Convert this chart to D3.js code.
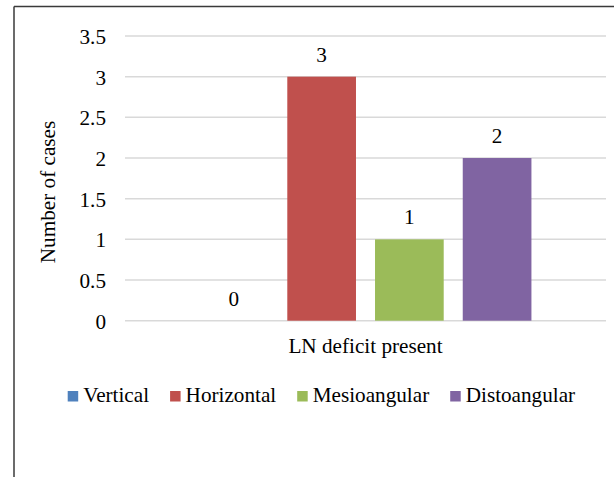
<!DOCTYPE html>
<html>
<head>
<meta charset="utf-8">
<script src="https://cdn.jsdelivr.net/npm/d3@7"></script>
<style>
  html, body { margin: 0; padding: 0; background: #fff; overflow: hidden; }
  svg { display: block; }
</style>
</head>
<body>
<script>
const categories = ["LN deficit present"];
const series = ["Vertical", "Horizontal", "Mesioangular", "Distoangular"];
const values = [0, 3, 1, 2];
const colors = ["#4F81BD", "#C0504D", "#9BBB59", "#8064A2"];
const yTicks = [0, 0.5, 1, 1.5, 2, 2.5, 3, 3.5];
const yTitle = "Number of cases";

const W = 614, H = 477;
const fs = 21.2;
const FONT = "'Liberation Serif', 'Times New Roman', serif";
const svg = d3.select("body").append("svg").attr("width", W).attr("height", H)
  .attr("font-family", FONT).style("font-family", FONT);

// outer border (left and top visible)
svg.append("line").attr("x1", 14).attr("x2", 14).attr("y1", 6.5).attr("y2", H)
  .attr("stroke", "#3a3a3a").attr("stroke-width", 1.5);
svg.append("line").attr("x1", 14).attr("x2", W).attr("y1", 6.5).attr("y2", 6.5)
  .attr("stroke", "#3a3a3a").attr("stroke-width", 1.5);

const plotL = 125, plotR = 606;
const y = d3.scaleLinear().domain([0, 3.5]).range([320.7, 36]);
const x0 = d3.scaleBand().domain(categories).range([plotL, plotR]).padding(0);
const x1 = d3.scaleBand().domain(series).range([0, x0.bandwidth()])
  .paddingInner(0.217).paddingOuter(0.85);

// gridlines
svg.append("g").selectAll("line").data(yTicks).join("line")
  .attr("x1", plotL).attr("x2", plotR)
  .attr("y1", d => y(d)).attr("y2", d => y(d))
  .attr("stroke", "#d9d9d9").attr("stroke-width", 1.5);

// y axis labels
const yAxis = d3.axisLeft(y).tickValues(yTicks).tickSize(0).tickPadding(0)
  .tickFormat(d => String(d));
const ga = svg.append("g").attr("transform", "translate(106,0)").call(yAxis);
ga.attr("font-family", FONT).attr("font-size", fs);
ga.select(".domain").remove();
ga.selectAll("text").attr("font-size", fs).style("font-family", FONT)
  .attr("fill", "#000").attr("dy", "0.35em");

// bars
const grp = svg.append("g").selectAll("g").data(categories).join("g")
  .attr("transform", d => `translate(${x0(d)},0)`);
grp.selectAll("rect").data(series.map((s, i) => ({ s, v: values[i], c: colors[i] })))
  .join("rect")
  .attr("x", d => x1(d.s)).attr("width", x1.bandwidth())
  .attr("y", d => y(d.v)).attr("height", d => y(0) - y(d.v))
  .attr("fill", d => d.c);
grp.selectAll("text.val").data(series.map((s, i) => ({ s, v: values[i] })))
  .join("text").attr("class", "val")
  .attr("x", d => x1(d.s) + x1.bandwidth() / 2)
  .attr("y", d => y(d.v) - 15)
  .attr("text-anchor", "middle").attr("font-size", fs).style("font-family", FONT)
  .text(d => d.v);

// x category label
svg.append("g").selectAll("text").data(categories).join("text")
  .attr("x", d => x0(d) + x0.bandwidth() / 2).attr("y", 353)
  .attr("text-anchor", "middle").attr("font-size", fs).style("font-family", FONT)
  .text(d => d);

// y title
svg.append("text").attr("transform", "translate(55,192) rotate(-90)")
  .attr("text-anchor", "middle").attr("font-size", fs).style("font-family", FONT).text(yTitle);

// legend
const leg = svg.append("g");
let lx = 67.7;
series.forEach((s, i) => {
  leg.append("rect").attr("x", lx).attr("y", 391).attr("width", 10.5).attr("height", 10.5)
    .attr("fill", colors[i]);
  const t = leg.append("text").attr("x", lx + 15.5).attr("y", 401.5)
    .attr("font-size", fs).style("font-family", FONT).text(s);
  lx += 15.5 + t.node().getComputedTextLength() + 21;
});
</script>
</body>
</html>
